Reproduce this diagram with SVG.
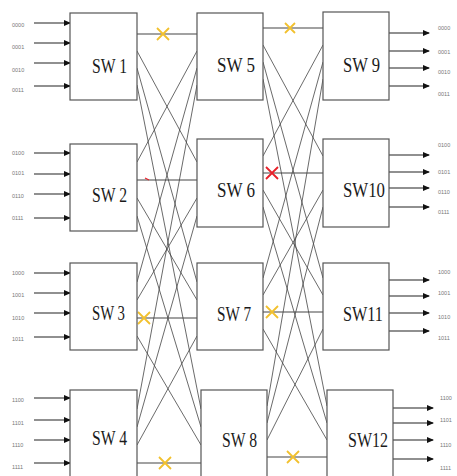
<svg xmlns="http://www.w3.org/2000/svg" width="457" height="476" viewBox="0 0 457 476">
<defs>
<marker id="ah" markerWidth="7" markerHeight="6" refX="6" refY="3" orient="auto" markerUnits="userSpaceOnUse">
<path d="M0,0 L7,3 L0,6 Z" fill="#111"/>
</marker>
<style>
.box{fill:#fff;stroke:#555;stroke-width:1.2}
.sw{font-family:"Liberation Serif",serif;font-size:20px;fill:#1a1a1a}
.lab{font-family:"Liberation Sans",sans-serif;font-size:5.5px;fill:#777}
.arr{stroke:#222;stroke-width:1.2;marker-end:url(#ah)}
.ln{stroke:#444;stroke-width:0.8;fill:none}
.hl{stroke:#444;stroke-width:1.1}
.xy{stroke:#f2c12e;stroke-width:1.8}
.xr{stroke:#e8202a;stroke-width:1.8}
</style>
</defs>
<rect width="457" height="476" fill="#fff"/>
<g id="connectors">
<!-- stage 1 to stage 2 diagonals -->
<line class="ln" x1="137" y1="51" x2="197" y2="162"/>
<line class="ln" x1="137" y1="68" x2="197" y2="282"/>
<line class="ln" x1="137" y1="85" x2="201" y2="409"/>
<line class="ln" x1="137" y1="162" x2="197" y2="51"/>
<line class="ln" x1="137" y1="198" x2="197" y2="300"/>
<line class="ln" x1="137" y1="216" x2="201" y2="427"/>
<line class="ln" x1="137" y1="282" x2="197" y2="68"/>
<line class="ln" x1="137" y1="300" x2="197" y2="198"/>
<line class="ln" x1="137" y1="336" x2="201" y2="445"/>
<line class="ln" x1="137" y1="409" x2="197" y2="85"/>
<line class="ln" x1="137" y1="427" x2="197" y2="216"/>
<line class="ln" x1="137" y1="445" x2="197" y2="336"/>
<!-- stage 1 to stage 2 straight -->
<line class="hl" x1="137" y1="34" x2="197" y2="34"/>
<line class="hl" x1="137" y1="180" x2="197" y2="180"/>
<line class="hl" x1="137" y1="318" x2="197" y2="318"/>
<line class="hl" x1="137" y1="463" x2="201" y2="463"/>
<!-- stage 2 to stage 3 diagonals -->
<line class="ln" x1="263" y1="45" x2="323" y2="156"/>
<line class="ln" x1="263" y1="62" x2="323" y2="278"/>
<line class="ln" x1="263" y1="79" x2="327" y2="406"/>
<line class="ln" x1="263" y1="156" x2="323" y2="45"/>
<line class="ln" x1="263" y1="190" x2="323" y2="295"/>
<line class="ln" x1="263" y1="207" x2="327" y2="423"/>
<line class="ln" x1="263" y1="278" x2="323" y2="62"/>
<line class="ln" x1="263" y1="295" x2="323" y2="190"/>
<line class="ln" x1="263" y1="329" x2="327" y2="440"/>
<line class="ln" x1="267" y1="406" x2="323" y2="79"/>
<line class="ln" x1="267" y1="423" x2="323" y2="207"/>
<line class="ln" x1="267" y1="440" x2="323" y2="329"/>
<!-- stage 2 to stage 3 straight -->
<line class="hl" x1="263" y1="28" x2="323" y2="28"/>
<line class="hl" x1="263" y1="173" x2="323" y2="173"/>
<line class="hl" x1="263" y1="312" x2="323" y2="312"/>
<line class="hl" x1="267" y1="457" x2="327" y2="457"/>
<!-- inputs -->
<line class="arr" x1="34" y1="23" x2="70" y2="23"/>
<line class="arr" x1="34" y1="43" x2="70" y2="43"/>
<line class="arr" x1="34" y1="63" x2="70" y2="63"/>
<line class="arr" x1="34" y1="86" x2="70" y2="86"/>
<line class="arr" x1="34" y1="153" x2="70" y2="153"/>
<line class="arr" x1="34" y1="174" x2="70" y2="174"/>
<line class="arr" x1="34" y1="194" x2="70" y2="194"/>
<line class="arr" x1="34" y1="218" x2="70" y2="218"/>
<line class="arr" x1="34" y1="273" x2="70" y2="273"/>
<line class="arr" x1="34" y1="293" x2="70" y2="293"/>
<line class="arr" x1="34" y1="313" x2="70" y2="313"/>
<line class="arr" x1="34" y1="337" x2="70" y2="337"/>
<line class="arr" x1="34" y1="398" x2="70" y2="398"/>
<line class="arr" x1="34" y1="420" x2="70" y2="420"/>
<line class="arr" x1="34" y1="440" x2="70" y2="440"/>
<line class="arr" x1="34" y1="463" x2="70" y2="463"/>
<!-- outputs -->
<line class="arr" x1="389" y1="33" x2="429" y2="33"/>
<line class="arr" x1="389" y1="51" x2="429" y2="51"/>
<line class="arr" x1="389" y1="68" x2="429" y2="68"/>
<line class="arr" x1="389" y1="86" x2="429" y2="86"/>
<line class="arr" x1="389" y1="155" x2="429" y2="155"/>
<line class="arr" x1="389" y1="172" x2="429" y2="172"/>
<line class="arr" x1="389" y1="188" x2="429" y2="188"/>
<line class="arr" x1="389" y1="207" x2="429" y2="207"/>
<line class="arr" x1="389" y1="280" x2="429" y2="280"/>
<line class="arr" x1="389" y1="296" x2="429" y2="296"/>
<line class="arr" x1="389" y1="313" x2="429" y2="313"/>
<line class="arr" x1="389" y1="331" x2="429" y2="331"/>
<line class="arr" x1="393" y1="408" x2="433" y2="408"/>
<line class="arr" x1="393" y1="423" x2="433" y2="423"/>
<line class="arr" x1="393" y1="440" x2="433" y2="440"/>
<line class="arr" x1="393" y1="459" x2="433" y2="459"/>
</g>
<g id="faults">
<path class="xy" d="M157,28 L169,40 M169,28 L157,40"/>
<path class="xy" d="M285,23 L295,33 M295,23 L285,33"/>
<path class="xr" d="M266,167 L278,179 M278,167 L266,179"/>
<path class="xr" d="M145,178 L149,180" style="stroke-width:1.2"/>
<path class="xy" d="M138,312 L150,324 M150,312 L138,324"/>
<path class="xy" d="M266,306 L278,318 M278,306 L266,318"/>
<path class="xy" d="M159,457 L171,469 M171,457 L159,469"/>
<path class="xy" d="M287,451 L299,463 M299,451 L287,463"/>
</g>
<g id="sw1"><rect class="box" x="70" y="13" width="67" height="87"/><text class="sw" x="92" y="73" textLength="35" lengthAdjust="spacingAndGlyphs">SW 1</text></g>
<g id="sw2"><rect class="box" x="70" y="144" width="67" height="87"/><text class="sw" x="92" y="202" textLength="35" lengthAdjust="spacingAndGlyphs">SW 2</text></g>
<g id="sw3"><rect class="box" x="70" y="263" width="67" height="87"/><text class="sw" x="92" y="320" textLength="33" lengthAdjust="spacingAndGlyphs">SW 3</text></g>
<g id="sw4"><rect class="box" x="70" y="390" width="67" height="100"/><text class="sw" x="92" y="445" textLength="35" lengthAdjust="spacingAndGlyphs">SW 4</text></g>
<g id="sw5"><rect class="box" x="197" y="13" width="66" height="87"/><text class="sw" x="217" y="72" textLength="38" lengthAdjust="spacingAndGlyphs">SW 5</text></g>
<g id="sw6"><rect class="box" x="197" y="139" width="66" height="88"/><text class="sw" x="217" y="197" textLength="38" lengthAdjust="spacingAndGlyphs">SW 6</text></g>
<g id="sw7"><rect class="box" x="197" y="263" width="66" height="87"/><text class="sw" x="217" y="321" textLength="34" lengthAdjust="spacingAndGlyphs">SW 7</text></g>
<g id="sw8"><rect class="box" x="201" y="390" width="66" height="100"/><text class="sw" x="222" y="447" textLength="35" lengthAdjust="spacingAndGlyphs">SW 8</text></g>
<g id="sw9"><rect class="box" x="323" y="12" width="66" height="88"/><text class="sw" x="343" y="72" textLength="37" lengthAdjust="spacingAndGlyphs">SW 9</text></g>
<g id="sw10"><rect class="box" x="323" y="139" width="66" height="88"/><text class="sw" x="343" y="197" textLength="42" lengthAdjust="spacingAndGlyphs">SW10</text></g>
<g id="sw11"><rect class="box" x="323" y="263" width="66" height="87"/><text class="sw" x="343" y="321" textLength="40" lengthAdjust="spacingAndGlyphs">SW11</text></g>
<g id="sw12"><rect class="box" x="327" y="390" width="66" height="100"/><text class="sw" x="348" y="447" textLength="40" lengthAdjust="spacingAndGlyphs">SW12</text></g>
<g id="labels">
<text class="lab" x="12" y="27">0000</text>
<text class="lab" x="12" y="49">0001</text>
<text class="lab" x="12" y="72">0010</text>
<text class="lab" x="12" y="92">0011</text>
<text class="lab" x="12" y="155">0100</text>
<text class="lab" x="12" y="175">0101</text>
<text class="lab" x="12" y="198">0110</text>
<text class="lab" x="12" y="220">0111</text>
<text class="lab" x="12" y="275">1000</text>
<text class="lab" x="12" y="297">1001</text>
<text class="lab" x="12" y="320">1010</text>
<text class="lab" x="12" y="341">1011</text>
<text class="lab" x="12" y="402">1100</text>
<text class="lab" x="12" y="425">1101</text>
<text class="lab" x="12" y="447">1110</text>
<text class="lab" x="12" y="469">1111</text>
<text class="lab" x="438" y="30">0000</text>
<text class="lab" x="438" y="54">0001</text>
<text class="lab" x="438" y="74">0010</text>
<text class="lab" x="438" y="96">0011</text>
<text class="lab" x="438" y="147">0100</text>
<text class="lab" x="438" y="174">0101</text>
<text class="lab" x="438" y="194">0110</text>
<text class="lab" x="438" y="214">0111</text>
<text class="lab" x="438" y="274">1000</text>
<text class="lab" x="438" y="295">1001</text>
<text class="lab" x="438" y="319">1010</text>
<text class="lab" x="438" y="340">1011</text>
<text class="lab" x="440" y="400">1100</text>
<text class="lab" x="440" y="422">1101</text>
<text class="lab" x="440" y="447">1110</text>
<text class="lab" x="440" y="470">1111</text>
</g>
</svg>
